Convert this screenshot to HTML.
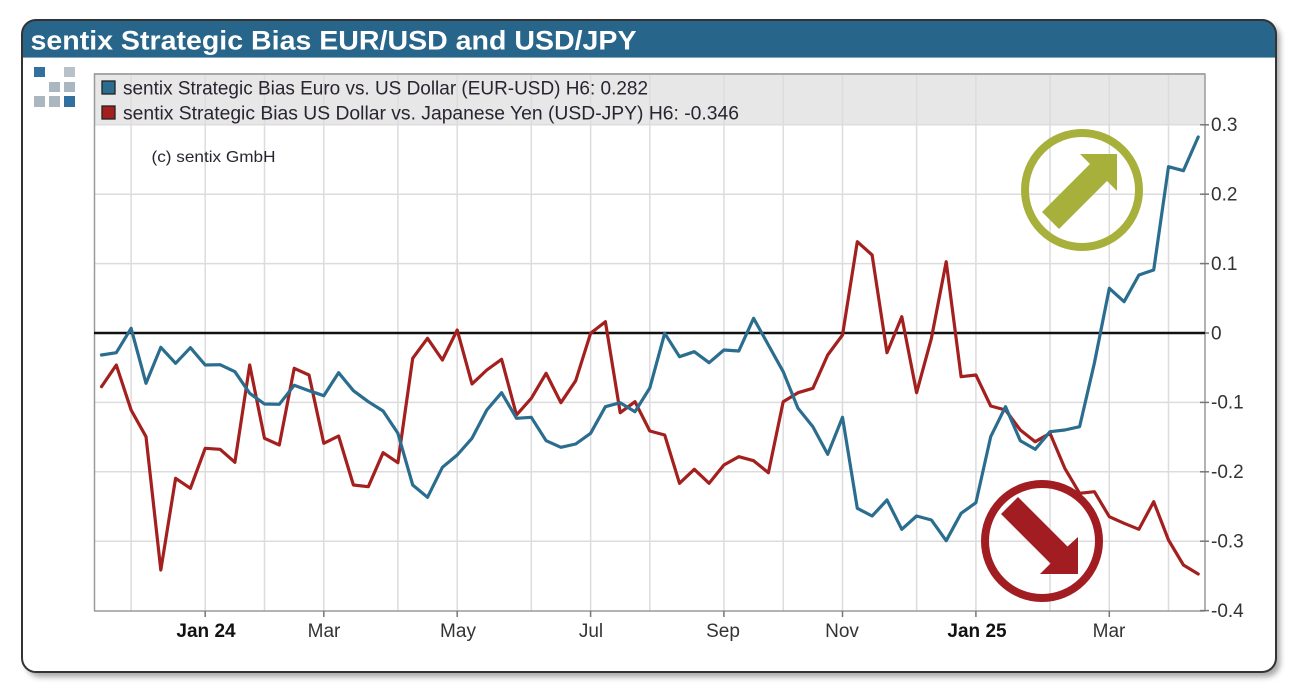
<!DOCTYPE html>
<html><head><meta charset="utf-8"><style>
html,body{margin:0;padding:0;background:#fff;}
svg{display:block;font-family:"Liberation Sans",Arial,sans-serif;}
</style></head><body>
<svg width="1300" height="686" viewBox="0 0 1300 686" xmlns="http://www.w3.org/2000/svg">
<defs>
<filter id="sh" x="-5%" y="-5%" width="110%" height="115%"><feGaussianBlur stdDeviation="3"/></filter>
</defs>
<rect width="1300" height="686" fill="#fff"/>
<rect x="26" y="24" width="1254" height="653" rx="14" fill="#8a8a8a" opacity="0.75" filter="url(#sh)"/>
<rect x="22" y="20" width="1254" height="652" rx="14" fill="#fff"/>
<path d="M22,57 V34 Q22,20 36,20 H1262 Q1276,20 1276,34 V57 Z" fill="#28658a"/>
<line x1="23" y1="57.5" x2="1275" y2="57.5" stroke="#7fa6bf" stroke-width="1"/>
<rect x="22" y="20" width="1254" height="652" rx="14" fill="none" stroke="#333" stroke-width="2"/>
<text x="30.5" y="49.5" font-size="27" font-weight="bold" fill="#fff" textLength="606" lengthAdjust="spacingAndGlyphs">sentix Strategic Bias EUR/USD and USD/JPY</text>

<!-- logo -->
<g>
<rect x="34" y="67" width="11" height="10" fill="#3270a0"/>
<rect x="64" y="67" width="11" height="10" fill="#b6c1ca"/>
<rect x="49" y="82" width="11" height="10" fill="#aab6c0"/>
<rect x="64" y="82" width="11" height="10" fill="#aab6c0"/>
<rect x="34" y="96" width="11" height="11" fill="#aab6c0"/>
<rect x="49" y="96" width="11" height="11" fill="#aab6c0"/>
<rect x="64" y="96" width="11" height="11" fill="#3270a0"/>
</g>

<!-- legend band -->
<rect x="94" y="73.5" width="1111" height="51" fill="#e7e7e7"/>
<line x1="94" y1="74" x2="1205" y2="74" stroke="#a8a8a8" stroke-width="2"/>

<!-- grid -->
<g stroke="#dcdcdc" stroke-width="1.5">
<line x1="131.1" y1="75" x2="131.1" y2="611"/>
<line x1="205.2" y1="75" x2="205.2" y2="611"/>
<line x1="264.5" y1="75" x2="264.5" y2="611"/>
<line x1="323.8" y1="75" x2="323.8" y2="611"/>
<line x1="397.9" y1="75" x2="397.9" y2="611"/>
<line x1="457.2" y1="75" x2="457.2" y2="611"/>
<line x1="531.3" y1="75" x2="531.3" y2="611"/>
<line x1="590.6" y1="75" x2="590.6" y2="611"/>
<line x1="649.8" y1="75" x2="649.8" y2="611"/>
<line x1="723.9" y1="75" x2="723.9" y2="611"/>
<line x1="783.2" y1="75" x2="783.2" y2="611"/>
<line x1="842.5" y1="75" x2="842.5" y2="611"/>
<line x1="916.6" y1="75" x2="916.6" y2="611"/>
<line x1="975.9" y1="75" x2="975.9" y2="611"/>
<line x1="1050" y1="75" x2="1050" y2="611"/>
<line x1="1109.3" y1="75" x2="1109.3" y2="611"/>
<line x1="1168.5" y1="75" x2="1168.5" y2="611"/>
<line x1="94" y1="124.8" x2="1205" y2="124.8"/>
<line x1="94" y1="194.2" x2="1205" y2="194.2"/>
<line x1="94" y1="263.6" x2="1205" y2="263.6"/>
<line x1="94" y1="402.4" x2="1205" y2="402.4"/>
<line x1="94" y1="471.8" x2="1205" y2="471.8"/>
<line x1="94" y1="541.2" x2="1205" y2="541.2"/>
</g>

<!-- axes -->
<g stroke="#9a9a9a" stroke-width="1.5">
<line x1="94.5" y1="73.5" x2="94.5" y2="611"/>
<line x1="94" y1="611" x2="1205" y2="611"/>
<line x1="1205" y1="73.5" x2="1205" y2="611"/>
</g>
<g stroke="#777" stroke-width="1.5">
<line x1="1200" y1="124.8" x2="1209" y2="124.8"/>
<line x1="1200" y1="194.2" x2="1209" y2="194.2"/>
<line x1="1200" y1="263.6" x2="1209" y2="263.6"/>
<line x1="1200" y1="333" x2="1209" y2="333"/>
<line x1="1200" y1="402.4" x2="1209" y2="402.4"/>
<line x1="1200" y1="471.8" x2="1209" y2="471.8"/>
<line x1="1200" y1="541.2" x2="1209" y2="541.2"/>
<line x1="1200" y1="610.6" x2="1209" y2="610.6"/>
<line x1="205.2" y1="611" x2="205.2" y2="617"/>
<line x1="323.8" y1="611" x2="323.8" y2="617"/>
<line x1="457.2" y1="611" x2="457.2" y2="617"/>
<line x1="590.6" y1="611" x2="590.6" y2="617"/>
<line x1="723.9" y1="611" x2="723.9" y2="617"/>
<line x1="842.5" y1="611" x2="842.5" y2="617"/>
<line x1="975.9" y1="611" x2="975.9" y2="617"/>
<line x1="1109.3" y1="611" x2="1109.3" y2="617"/>
</g>

<!-- y labels -->
<g font-size="19" fill="#333">
<text x="1211" y="131">0.3</text>
<text x="1211" y="200.5">0.2</text>
<text x="1211" y="270">0.1</text>
<text x="1211" y="339.5">0</text>
<text x="1211" y="408.5">-0.1</text>
<text x="1211" y="478">-0.2</text>
<text x="1211" y="547.5">-0.3</text>
<text x="1211" y="617">-0.4</text>
</g>
<!-- x labels -->
<g font-size="19" fill="#333" text-anchor="middle">
<text x="206" y="637" font-weight="bold" fill="#111">Jan 24</text>
<text x="324" y="637">Mar</text>
<text x="458" y="637">May</text>
<text x="591" y="637">Jul</text>
<text x="723" y="637">Sep</text>
<text x="842" y="637">Nov</text>
<text x="977" y="637" font-weight="bold" fill="#111">Jan 25</text>
<text x="1109" y="637">Mar</text>
</g>

<!-- legend -->
<rect x="102" y="81" width="13" height="13" fill="#2b6d8f" stroke="#222" stroke-width="1.3"/>
<rect x="102" y="106" width="13" height="13" fill="#a3201f" stroke="#222" stroke-width="1.3"/>
<text x="123" y="94.5" font-size="19" fill="#2a2430" textLength="525" lengthAdjust="spacingAndGlyphs">sentix Strategic Bias Euro vs. US Dollar (EUR-USD) H6: 0.282</text>
<text x="123" y="119.5" font-size="19" fill="#2a2430" textLength="616" lengthAdjust="spacingAndGlyphs">sentix Strategic Bias US Dollar vs. Japanese Yen (USD-JPY) H6: -0.346</text>
<text x="151.5" y="162" font-size="16" fill="#2a2430" textLength="124" lengthAdjust="spacingAndGlyphs">(c) sentix GmbH</text>

<!-- zero line -->
<line x1="94" y1="333" x2="1205" y2="333" stroke="#111" stroke-width="2.5"/>

<!-- series -->
<polyline fill="none" stroke="#a3201f" stroke-width="3.2" stroke-linejoin="round" stroke-linecap="round" points="101.5,386.7 116.3,365 131.1,410 146,436.7 160.8,570 175.6,478.3 190.4,488.3 205.2,448.3 220.1,449.3 234.9,462.3 249.7,365 264.5,438.3 279.3,445 294.2,368.3 309,375 323.8,443.3 338.6,436 353.4,485 368.3,486.7 383.1,452.7 397.9,462.7 412.7,358.3 427.5,338.3 442.4,360 457.2,330 472,384 486.8,370 501.6,359.3 516.5,415 531.3,398.3 546.1,373.3 560.9,402.7 575.7,380.7 590.6,333.3 605.4,321.7 620.2,412.7 635,401.7 649.8,431 664.7,435 679.5,483.3 694.3,469.3 709.1,483.3 723.9,465 738.8,456.7 753.6,460.7 768.4,472.7 783.2,401.7 798,392.7 812.9,388.3 827.7,355 842.5,335 857.3,241.7 872.1,255 887,352.7 901.8,316.7 916.6,392.7 931.4,338.3 946.2,261.7 961.1,376.7 975.9,375 990.7,406 1005.5,410 1020.3,430 1035.2,441.7 1050,433.3 1064.8,468.3 1079.6,493.3 1094.4,491.7 1109.3,516.7 1124.1,523.3 1138.9,529.3 1153.7,501.7 1168.5,540 1183.4,565 1198.2,574"/>
<polyline fill="none" stroke="#2b6d8f" stroke-width="3.2" stroke-linejoin="round" stroke-linecap="round" points="101.5,355 116.3,352.7 131.1,328.3 146,383.3 160.8,347.3 175.6,363.3 190.4,347.7 205.2,365 220.1,364.7 234.9,371.7 249.7,393.3 264.5,404 279.3,404.3 294.2,385.3 309,390.7 323.8,395.7 338.6,372.7 353.4,390.7 368.3,401.7 383.1,411 397.9,433.3 412.7,485 427.5,497.3 442.4,467.3 457.2,455 472,438.3 486.8,410 501.6,392.7 516.5,418.3 531.3,417.3 546.1,440.7 560.9,447.3 575.7,444 590.6,433.3 605.4,406.7 620.2,402.7 635,411.7 649.8,388 664.7,333.3 679.5,356.7 694.3,351.7 709.1,362.7 723.9,350 738.8,351 753.6,318.3 768.4,345 783.2,371.7 798,408.3 812.9,426.7 827.7,454.3 842.5,417.3 857.3,508.3 872.1,516 887,500 901.8,529.3 916.6,516 931.4,520 946.2,540.7 961.1,513.3 975.9,502.7 990.7,436.7 1005.5,406.7 1020.3,440.7 1035.2,449.3 1050,431.7 1064.8,430 1079.6,426.7 1094.4,363 1109.3,288.3 1124.1,301.7 1138.9,275 1153.7,270 1168.5,166.7 1183.4,170.7 1198.2,137"/>

<!-- annotations -->
<circle cx="1082" cy="190" r="57" fill="none" stroke="#a8b03c" stroke-width="8"/>
<polygon points="1117,154 1117,191 1107,181 1059,229 1042,212 1090,164 1080,154" fill="#a8b03c"/>
<circle cx="1042" cy="541" r="57" fill="none" stroke="#a11d21" stroke-width="8"/>
<polygon points="1078,574 1040,574 1050.5,563.5 1001,514 1018,497 1067.5,546.5 1078,537" fill="#a11d21"/>
</svg>
</body></html>
